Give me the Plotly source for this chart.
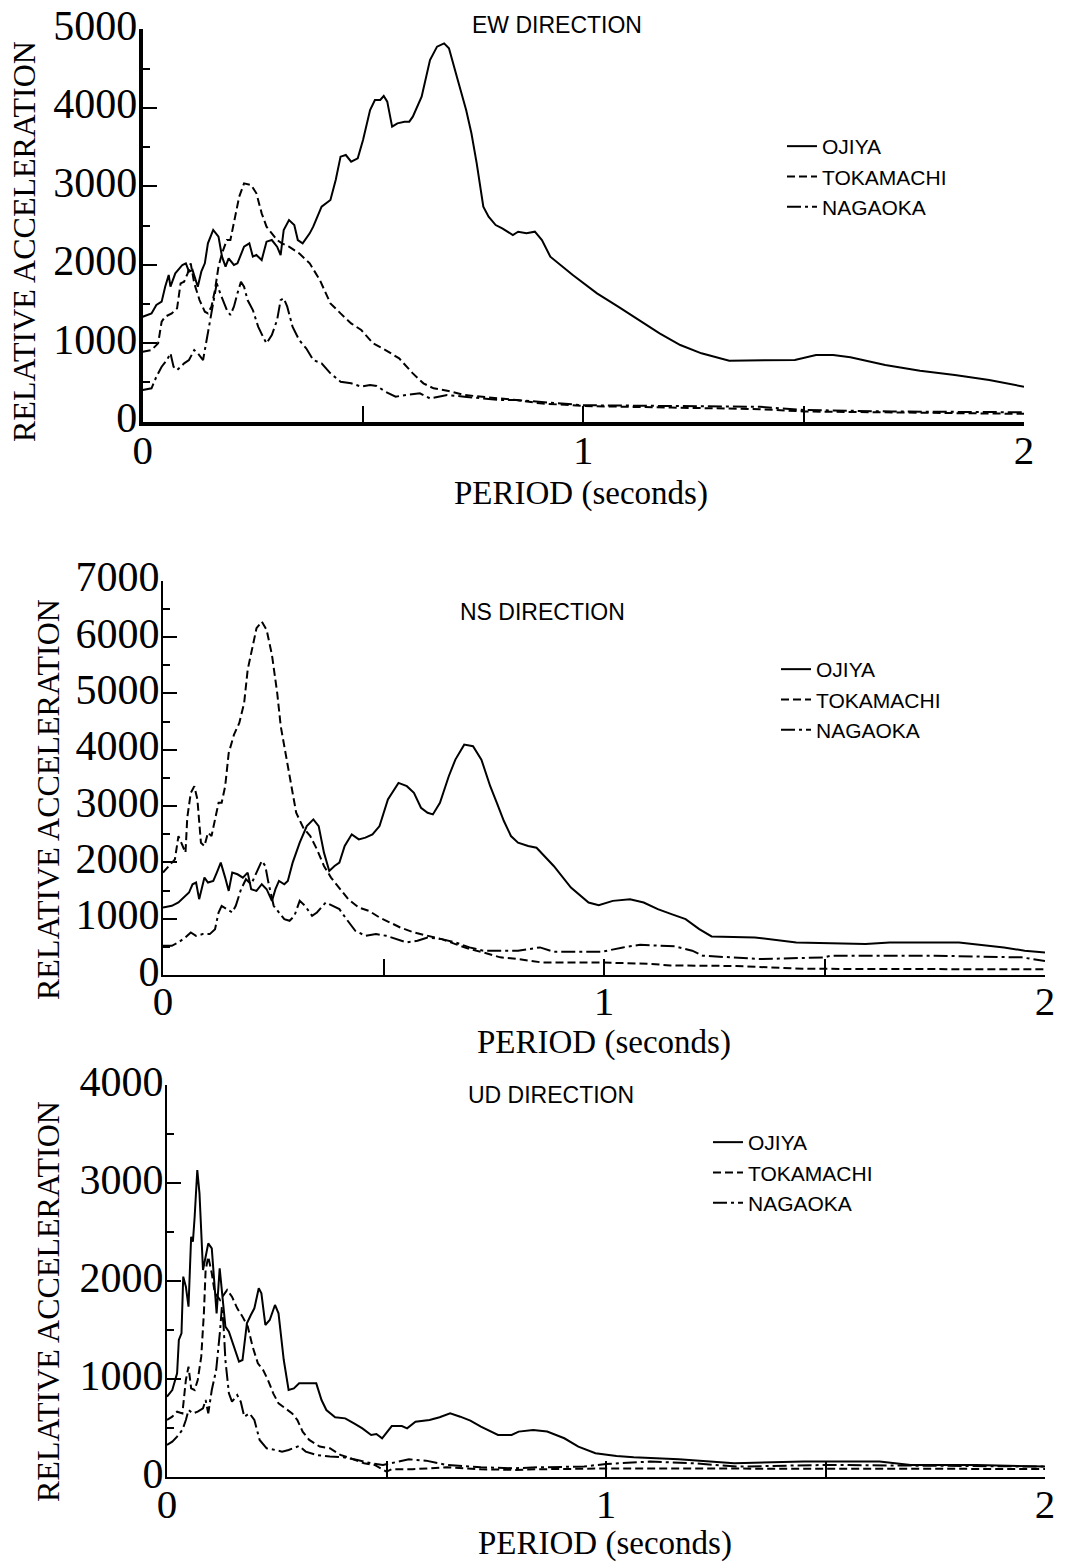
import plotly.graph_objects as go

# ---------------- DATA ----------------
# EW direction
ew_ojiya_t = [0, 0.020, 0.031, 0.043, 0.051, 0.059, 0.063, 0.074, 0.090, 0.098,
              0.105, 0.113, 0.125, 0.133, 0.141, 0.148, 0.160, 0.172, 0.180, 0.188,
              0.195, 0.207, 0.215, 0.230, 0.242, 0.250, 0.258, 0.270, 0.281, 0.293,
              0.305, 0.313, 0.320, 0.332, 0.344, 0.352, 0.363, 0.379, 0.387, 0.406,
              0.426, 0.438, 0.449, 0.461, 0.473, 0.488, 0.500, 0.516, 0.527, 0.539,
              0.547, 0.555, 0.566, 0.578, 0.594, 0.605, 0.613, 0.633, 0.652, 0.668,
              0.684, 0.695, 0.715, 0.734, 0.746, 0.758, 0.773, 0.785, 0.801, 0.816,
              0.840, 0.852, 0.871,
              0.890, 0.906, 0.925, 0.976, 1.0, 1.031, 1.079, 1.126, 1.173, 1.220,
              1.268, 1.331, 1.409, 1.480, 1.528, 1.567, 1.606, 1.685, 1.764, 1.843,
              1.921, 2.0]
ew_ojiya_a = [1338, 1380, 1487, 1529, 1720, 1869, 1720, 1890, 1997, 2018,
              1912, 1933, 1720, 1912, 2018, 2273, 2443, 2358, 2103, 1976,
              2082, 1997, 2018, 2230, 2273, 2103, 2124, 2060, 2294, 2315,
              2230, 2124, 2443, 2570, 2506, 2315, 2273, 2400, 2485, 2740,
              2825, 3080, 3377, 3398, 3313, 3356, 3590, 3972, 4099, 4099,
              4150, 4078, 3760, 3802, 3823, 3823, 3887, 4142, 4609, 4779,
              4821, 4758, 4354, 3972, 3675, 3292, 2740, 2613, 2506, 2464,
              2379, 2421, 2400,
              2421, 2315, 2103, 1869, 1763, 1635, 1466, 1296, 1126, 977,
              871, 777, 777, 786, 850, 850, 820, 722, 650, 595,
              531, 446]

ew_toka_t = [0, 0.020, 0.035, 0.043, 0.051, 0.066, 0.078, 0.086, 0.094, 0.102,
             0.109, 0.117, 0.129, 0.141, 0.148, 0.156, 0.164, 0.172, 0.180, 0.191,
             0.199, 0.207, 0.219, 0.230, 0.246, 0.258, 0.270, 0.281, 0.293, 0.305,
             0.316, 0.332, 0.355, 0.379, 0.402, 0.426, 0.449, 0.473, 0.496, 0.523,
             0.551, 0.582, 0.613, 0.637, 0.660, 0.691, 0.730, 0.770, 0.809, 0.848,
             0.901, 1.0, 1.2, 1.4, 1.5, 1.7, 2.0]
ew_toka_a = [892, 913, 998, 1274, 1338, 1380, 1444, 1763, 1784, 1890,
             2018, 1763, 1550, 1402, 1380, 1466, 1678, 1976, 2145, 2315,
             2315, 2528, 2867, 3037, 3016, 2910, 2655, 2485, 2400, 2315,
             2273, 2230, 2145, 2018, 1805, 1508, 1380, 1253, 1168, 998,
             913, 807, 616, 489, 425, 395, 340, 319, 297, 276,
             234, 200, 180, 160, 130, 120, 100]

ew_naga_t = [0, 0.020, 0.031, 0.043, 0.055, 0.063, 0.070, 0.078, 0.094, 0.105,
             0.117, 0.125, 0.137, 0.145, 0.152, 0.160, 0.168, 0.176, 0.184, 0.191,
             0.199, 0.207, 0.215, 0.223, 0.230, 0.238, 0.250, 0.262, 0.273, 0.281,
             0.293, 0.305, 0.313, 0.320, 0.328, 0.340, 0.355, 0.371, 0.387, 0.406,
             0.426, 0.449, 0.473, 0.496, 0.516, 0.531, 0.551, 0.574, 0.598, 0.629,
             0.652, 0.676, 0.691, 0.730, 0.770, 0.809, 0.848, 0.901, 1.0, 1.2,
             1.4, 1.5, 1.7, 2.0]
ew_naga_a = [404, 425, 573, 701, 786, 871, 701, 658, 743, 786,
             913, 871, 786, 1041, 1296, 1550, 1763, 1635, 1508, 1423,
             1359, 1466, 1635, 1784, 1720, 1550, 1423, 1211, 1083, 998,
             1104, 1296, 1550, 1572, 1466, 1211, 1041, 935, 786, 743,
             616, 510, 489, 446, 467, 455, 382, 319, 340, 361,
             297, 319, 340, 319, 297, 276, 276, 255, 210, 200,
             190, 150, 130, 120]

# NS direction
ns_ojiya_t = [0, 0.020, 0.035, 0.051, 0.059, 0.067, 0.075, 0.082, 0.094, 0.102,
              0.114, 0.122, 0.131, 0.141, 0.149, 0.157, 0.169, 0.181, 0.192, 0.200,
              0.212, 0.224, 0.235, 0.247, 0.255, 0.263, 0.275, 0.283, 0.294, 0.310,
              0.326, 0.341, 0.353, 0.365, 0.377, 0.389, 0.400, 0.412, 0.428, 0.444,
              0.459, 0.475, 0.491, 0.510, 0.534, 0.553, 0.569, 0.585, 0.600, 0.612,
              0.628, 0.648, 0.663, 0.683, 0.703, 0.722, 0.742, 0.757, 0.773, 0.789,
              0.805, 0.828, 0.847, 0.886, 0.925, 0.965, 0.988, 1.020, 1.059, 1.090,
              1.122, 1.153, 1.185, 1.216, 1.244, 1.342, 1.436, 1.593, 1.648, 1.805,
              1.907, 1.954, 2.0]
ns_ojiya_a = [1198, 1228, 1287, 1405, 1464, 1611, 1641, 1346, 1729, 1641,
              1670, 1818, 1995, 1729, 1493, 1818, 1788, 1729, 1818, 1523,
              1493, 1611, 1523, 1316, 1523, 1670, 1611, 1670, 1995, 2349,
              2644, 2762, 2644, 2172, 1847, 1936, 1995, 2290, 2497, 2408,
              2438, 2497, 2644, 3116, 3411, 3352, 3234, 2969, 2880, 2851,
              3057, 3529, 3824, 4090, 4061, 3824, 3352, 3057, 2733, 2467,
              2349, 2290, 2260, 1936, 1552, 1287, 1239, 1316, 1346, 1287,
              1169, 1080, 992, 814, 685, 667, 578, 549, 578, 578,
              490, 431, 401]

ns_toka_t = [0, 0.016, 0.027, 0.035, 0.043, 0.051, 0.055, 0.063, 0.071, 0.078,
             0.086, 0.094, 0.102, 0.110, 0.118, 0.126, 0.133, 0.141, 0.149, 0.161,
             0.173, 0.184, 0.192, 0.204, 0.212, 0.224, 0.235, 0.247, 0.259, 0.267,
             0.279, 0.290, 0.302, 0.318, 0.334, 0.349, 0.365, 0.381, 0.400, 0.420,
             0.444, 0.467, 0.491, 0.514, 0.538, 0.569, 0.600, 0.632, 0.663, 0.695,
             0.726, 0.765, 0.805, 0.858, 1.0, 1.1, 1.15, 1.3, 1.45, 2.0]
ns_toka_a = [1818, 1965, 2054, 2467, 2320, 2172, 2792, 3234, 3352, 3116,
             2349, 2290, 2526, 2467, 2762, 3057, 3057, 3352, 3942, 4267,
             4474, 4828, 5418, 5831, 6156, 6274, 6126, 5684, 5005, 4415,
             3883, 3352, 2880, 2615, 2467, 2231, 1936, 1729, 1552, 1346,
             1198, 1139, 1021, 933, 844, 755, 696, 637, 549, 460,
             401, 313, 283, 224, 220, 200, 170, 160, 110, 100]

ns_naga_t = [0, 0.020, 0.035, 0.051, 0.063, 0.075, 0.090, 0.106, 0.118, 0.126,
             0.133, 0.145, 0.157, 0.165, 0.177, 0.188, 0.200, 0.212, 0.224, 0.232,
             0.239, 0.251, 0.263, 0.275, 0.287, 0.298, 0.310, 0.322, 0.338, 0.349,
             0.369, 0.385, 0.400, 0.416, 0.436, 0.459, 0.483, 0.506, 0.530, 0.553,
             0.577, 0.600, 0.632, 0.663, 0.695, 0.726, 0.765, 0.805, 0.855, 0.886,
             0.996, 1.043, 1.082, 1.161, 1.200, 1.224, 1.357, 1.499, 1.515, 1.750,
             1.947, 2.0]
ns_naga_a = [519, 519, 578, 667, 755, 696, 726, 726, 814, 1110,
             1228, 1169, 1110, 1228, 1523, 1700, 1611, 1818, 2024, 1936,
             1641, 1228, 1110, 992, 962, 1051, 1316, 1228, 1051, 1110,
             1287, 1228, 1169, 992, 785, 696, 726, 696, 637, 578,
             608, 667, 637, 578, 490, 431, 431, 431, 490, 413,
             413, 490, 537, 508, 431, 342, 283, 313, 342, 342,
             313, 250]

# UD direction
ud_ojiya_t = [0, 0.012, 0.023, 0.027, 0.033, 0.037, 0.043, 0.049, 0.055, 0.059,
              0.063, 0.069, 0.074, 0.082, 0.088, 0.094, 0.102, 0.109, 0.113, 0.120,
              0.125, 0.133, 0.141, 0.152, 0.164, 0.172, 0.182, 0.191, 0.199, 0.209,
              0.215, 0.224, 0.234, 0.246, 0.254, 0.266, 0.277, 0.289, 0.301, 0.313,
              0.340, 0.352, 0.363, 0.383, 0.406, 0.426, 0.445, 0.465, 0.477, 0.490,
              0.512, 0.535, 0.547, 0.566, 0.598, 0.621, 0.645, 0.668, 0.691, 0.715,
              0.754, 0.785, 0.801, 0.834, 0.866, 0.905, 0.937, 0.976, 1.024, 1.063,
              1.166, 1.292, 1.450, 1.623, 1.694, 1.844, 2.0]
ud_ojiya_a = [822, 890, 1060, 1400, 1468, 2046, 1944, 1740, 2453, 2402,
              2657, 3133, 2895, 2114, 2249, 2385, 2334, 1944, 1672, 2131,
              1876, 1536, 1485, 1332, 1179, 1196, 1570, 1655, 1723, 1927,
              1876, 1553, 1604, 1757, 1672, 1196, 890, 907, 958, 958,
              958, 788, 686, 612, 601, 550, 499, 432, 442, 398,
              523, 523, 499, 567, 584, 612, 652, 618, 578, 516,
              432, 432, 466, 483, 466, 398, 313, 245, 217, 204,
              183, 143, 160, 160, 126, 126, 109]

ud_toka_t = [0, 0.012, 0.023, 0.035, 0.043, 0.049, 0.055, 0.063, 0.070, 0.078,
             0.084, 0.088, 0.094, 0.102, 0.109, 0.121, 0.137, 0.148, 0.160, 0.172,
             0.184, 0.195, 0.207, 0.219, 0.230, 0.242, 0.254, 0.270, 0.285, 0.297,
             0.309, 0.324, 0.348, 0.371, 0.395, 0.418, 0.449, 0.473, 0.500, 0.512,
             0.559, 0.637, 0.715, 0.793, 0.846, 1.0, 1.3, 1.6, 2.0]
ud_toka_a = [584, 618, 669, 652, 992, 1128, 907, 890, 992, 1230,
             1672, 2114, 2249, 2080, 1876, 1808, 1910, 1842, 1723, 1638,
             1536, 1332, 1162, 1094, 992, 856, 754, 703, 652, 584,
             466, 381, 313, 296, 228, 194, 143, 126, 58, 82,
             82, 102, 82, 75, 82, 90, 90, 85, 85]

ud_naga_t = [0, 0.012, 0.023, 0.035, 0.043, 0.049, 0.059, 0.070, 0.082, 0.088,
             0.094, 0.102, 0.112, 0.117, 0.121, 0.125, 0.129, 0.133, 0.141, 0.148,
             0.160, 0.168, 0.176, 0.188, 0.199, 0.211, 0.227, 0.246, 0.262, 0.277,
             0.301, 0.316, 0.340, 0.371, 0.402, 0.434, 0.465, 0.492, 0.520, 0.551,
             0.590, 0.637, 0.715, 0.793, 0.846, 0.95, 1.0, 1.1, 1.2, 1.3,
             1.5, 2.0]
ud_naga_a = [330, 364, 415, 483, 584, 686, 652, 669, 703, 788,
             652, 890, 1094, 1298, 1502, 1740, 1536, 1196, 856, 771,
             839, 771, 618, 652, 584, 381, 296, 279, 262, 279,
             319, 262, 228, 211, 204, 177, 143, 126, 150, 183,
             170, 126, 102, 92, 102, 110, 136, 160, 143, 109,
             126, 109]

stations = ["OJIYA", "TOKAMACHI", "NAGAOKA"]
panel_titles = ["EW DIRECTION", "NS DIRECTION", "UD DIRECTION"]
y_max = [5000, 7000, 4000]
x_ticks = [0, 1, 2]
y_label = "RELATIVE ACCELERATION"
x_label = "PERIOD (seconds)"

panels = [
    [(ew_ojiya_t, ew_ojiya_a), (ew_toka_t, ew_toka_a), (ew_naga_t, ew_naga_a)],
    [(ns_ojiya_t, ns_ojiya_a), (ns_toka_t, ns_toka_a), (ns_naga_t, ns_naga_a)],
    [(ud_ojiya_t, ud_ojiya_a), (ud_toka_t, ud_toka_a), (ud_naga_t, ud_naga_a)],
]

# ---------------- LAYOUT / STYLE ----------------
W, H = 1065, 1565
SERIF = "Liberation Serif, Times New Roman, serif"
SANS = "Liberation Sans, Arial, sans-serif"


def px(x):
    return x / W


def py(y):
    return 1 - y / H


# plot areas in pixels: (left, right, top, bottom)
areas = [(142.7, 1024, 29.3, 421.7),
         (163, 1045, 580.7, 975),
         (167, 1045, 1085, 1477.3)]
axis_lw = [4, 2, 2]
dashes = ["solid", "8px,4px", "14px,4px,3px,4px"]
legend_pos = [(782, 126), (776, 649), (708, 1122)]
title_pos = [(557, 25), (542, 612), (551, 1095)]
ytitle_pos = [(24, 242), (48, 800), (48, 1302)]
xtitle_pos = [(581, 493), (604, 1042), (605, 1543)]

fig = go.Figure()
annotations = []
layout_axes = {}

for i, series in enumerate(panels):
    sfx = "" if i == 0 else str(i + 1)
    xa, ya = "x" + sfx, "y" + sfx
    leg = "legend" + sfx
    for j, (t, a) in enumerate(series):
        assert len(t) == len(a), (i, j, len(t), len(a))
        fig.add_trace(go.Scatter(
            x=t, y=a, mode="lines", name=stations[j],
            xaxis=xa, yaxis=ya, legend=leg,
            line=dict(color="black", width=2, dash=dashes[j]),
            hoverinfo="skip"))
    l, r, t_, b = areas[i]
    lw = axis_lw[i]
    layout_axes["xaxis" + sfx] = dict(
        domain=[px(l), px(r)], anchor=ya, range=[0, 2],
        showline=True, linecolor="black", linewidth=lw,
        showgrid=False, zeroline=False,
        tickmode="array", tickvals=x_ticks, ticktext=[str(v) for v in x_ticks],
        ticks="inside", ticklen=16, tickwidth=2, tickcolor="black",
        ticklabelstandoff=-11,
        minor=dict(ticks="inside", tickmode="array", tickvals=[0.5, 1.5],
                   ticklen=16, tickwidth=2, tickcolor="black", showgrid=False),
        tickfont=dict(family=SERIF, size=41, color="black"),
        automargin=False, fixedrange=True)
    layout_axes["yaxis" + sfx] = dict(
        domain=[py(b), py(t_)], anchor=xa, range=[0, y_max[i]],
        showline=True, linecolor="black", linewidth=lw,
        showgrid=False, zeroline=False,
        tickmode="linear", tick0=0, dtick=1000,
        ticks="inside", ticklen=14, tickwidth=2, tickcolor="black",
        ticklabelstandoff=-7, ticklabelshift=-4,
        minor=dict(ticks="inside", dtick=500, ticklen=7, tickwidth=2,
                   tickcolor="black", showgrid=False),
        tickfont=dict(family=SERIF, size=42, color="black"),
        automargin=False, fixedrange=True)
    lx, ly = legend_pos[i]
    layout_axes[leg] = dict(
        x=px(lx), y=py(ly), xanchor="left", yanchor="top",
        bgcolor="rgba(0,0,0,0)", borderwidth=0,
        font=dict(family=SANS, size=21, color="black"),
        tracegroupgap=0, itemclick=False, itemdoubleclick=False)
    tx, ty = title_pos[i]
    annotations.append(dict(
        text=panel_titles[i], x=px(tx), y=py(ty), xref="paper", yref="paper",
        xanchor="center", yanchor="middle", showarrow=False,
        font=dict(family=SANS, size=23, color="black")))
    yx, yy = ytitle_pos[i]
    annotations.append(dict(
        text=y_label, x=px(yx), y=py(yy), xref="paper", yref="paper",
        xanchor="center", yanchor="middle", textangle=-90, showarrow=False,
        font=dict(family=SERIF, size=32, color="black")))
    xx, xy = xtitle_pos[i]
    annotations.append(dict(
        text=x_label, x=px(xx), y=py(xy), xref="paper", yref="paper",
        xanchor="center", yanchor="middle", showarrow=False,
        font=dict(family=SERIF, size=33, color="black")))

fig.update_layout(
    width=W, height=H,
    margin=dict(l=0, r=0, t=0, b=0),
    paper_bgcolor="white", plot_bgcolor="white",
    showlegend=True,
    annotations=annotations,
    **layout_axes)

fig.write_html("out.html", config={"displayModeBar": False})
